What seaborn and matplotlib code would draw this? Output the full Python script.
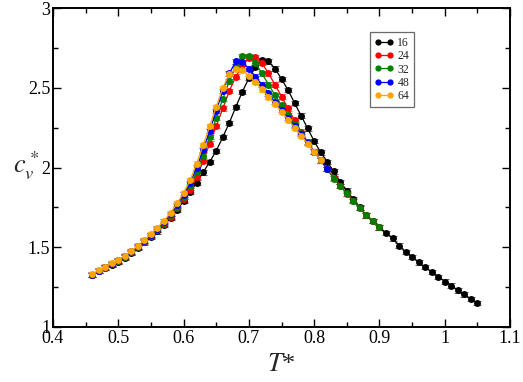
import numpy as np
import pandas as pd
import seaborn as sns
import matplotlib
matplotlib.use('Agg')
import matplotlib.pyplot as plt
from matplotlib.lines import Line2D
from matplotlib.ticker import MultipleLocator, FormatStrFormatter

# temperature grid of the largest run (L=16); the other sizes stop earlier
T_all = [0.46, 0.47, 0.48, 0.49, 0.50, 0.51, 0.52, 0.53, 0.54, 0.55,
         0.56, 0.57, 0.58, 0.59, 0.60, 0.61, 0.62, 0.63, 0.64, 0.65,
         0.66, 0.67, 0.68, 0.69, 0.70, 0.71, 0.72, 0.73, 0.74, 0.75,
         0.76, 0.77, 0.78, 0.79, 0.80, 0.81, 0.82, 0.83, 0.84, 0.85,
         0.86, 0.87, 0.88, 0.89, 0.90, 0.91, 0.92, 0.93, 0.94, 0.95,
         0.96, 0.97, 0.98, 0.99, 1.00, 1.01, 1.02, 1.03, 1.04, 1.05]

cv_16 = [1.325, 1.35, 1.37, 1.39, 1.41, 1.435, 1.465, 1.495, 1.53, 1.565,
         1.60, 1.64, 1.685, 1.735, 1.79, 1.845, 1.905, 1.97, 2.035, 2.105,
         2.19, 2.28, 2.38, 2.475, 2.56, 2.63, 2.675, 2.665, 2.62, 2.555,
         2.485, 2.405, 2.325, 2.245, 2.165, 2.095, 2.035, 1.975, 1.91, 1.855,
         1.80, 1.75, 1.70, 1.665, 1.625, 1.59, 1.555, 1.51, 1.47, 1.44,
         1.405, 1.375, 1.345, 1.315, 1.285, 1.26, 1.23, 1.205, 1.175, 1.15]

cv_24 = [1.325, 1.35, 1.372, 1.392, 1.412, 1.438, 1.468, 1.50, 1.535, 1.57,
         1.607, 1.647, 1.692, 1.745, 1.80, 1.86, 1.94, 2.04, 2.15, 2.26,
         2.37, 2.48, 2.57, 2.64, 2.685, 2.69, 2.655, 2.59, 2.52, 2.445,
         2.37, 2.295, 2.225, 2.16, 2.10, 2.045, 1.99, 1.935, 1.885, 1.835,
         1.79, 1.745, 1.70, 1.665, 1.625]

cv_32 = [1.327, 1.352, 1.374, 1.395, 1.415, 1.441, 1.471, 1.503, 1.538, 1.574,
         1.612, 1.653, 1.70, 1.755, 1.815, 1.885, 1.97, 2.075, 2.19, 2.31,
         2.43, 2.54, 2.635, 2.70, 2.70, 2.655, 2.59, 2.52, 2.455, 2.39,
         2.33, 2.27, 2.215, 2.16, 2.10, 2.045, 1.99, 1.93, 1.885, 1.838,
         1.79, 1.745, 1.70, 1.665, 1.625]

cv_48 = [1.328, 1.353, 1.376, 1.397, 1.418, 1.444, 1.474, 1.506, 1.541, 1.578,
         1.617, 1.66, 1.708, 1.765, 1.83, 1.90, 2.00, 2.11, 2.23, 2.355,
         2.48, 2.59, 2.665, 2.66, 2.62, 2.57, 2.52, 2.465, 2.41, 2.36,
         2.31, 2.26, 2.21, 2.155, 2.10, 2.045, 1.99]

cv_64 = [1.33, 1.355, 1.378, 1.40, 1.42, 1.447, 1.477, 1.51, 1.545, 1.583,
         1.622, 1.666, 1.715, 1.775, 1.84, 1.92, 2.025, 2.14, 2.26, 2.38,
         2.50, 2.585, 2.62, 2.61, 2.575, 2.535, 2.49, 2.445, 2.40, 2.35,
         2.30, 2.25, 2.20, 2.15, 2.10, 2.045]

sizes = ['16', '24', '32', '48', '64']
cv_by_size = [cv_16, cv_24, cv_32, cv_48, cv_64]
colors = ['black', 'red', 'green', 'blue', 'orange']
cv_err = 0.014

rows = []
for L, cv in zip(sizes, cv_by_size):
    for T, c in zip(T_all[:len(cv)], cv):
        rows.append({'T': T, 'cv': c, 'L': L})
df = pd.DataFrame(rows)
palette = dict(zip(sizes, colors))

sns.set_theme(style='ticks')
plt.rcParams['font.family'] = ['Liberation Serif', 'DejaVu Serif']
plt.rcParams['mathtext.fontset'] = 'stix'

fig = plt.figure(figsize=(5.23, 3.82), dpi=100)
ax = fig.add_axes([0.1013, 0.144, 0.874, 0.835])

# error bars underneath the curves
for L in sizes:
    sub = df[df['L'] == L]
    ax.errorbar(sub['T'], sub['cv'], yerr=cv_err, fmt='none', ecolor=palette[L],
                elinewidth=0.8, capsize=3, capthick=0.8, alpha=0.6, zorder=1)

sns.lineplot(data=df, x='T', y='cv', hue='L', hue_order=sizes, palette=palette,
             marker='o', markersize=5, markeredgewidth=0, linewidth=0.9,
             errorbar=None, legend=False, ax=ax, zorder=2)

ax.set_xlim(0.4, 1.1)
ax.set_ylim(1, 3)
ax.xaxis.set_major_locator(MultipleLocator(0.1))
ax.xaxis.set_minor_locator(MultipleLocator(0.05))
ax.yaxis.set_major_locator(MultipleLocator(0.5))
ax.yaxis.set_minor_locator(MultipleLocator(0.25))
ax.xaxis.set_major_formatter(FormatStrFormatter('%g'))
ax.yaxis.set_major_formatter(FormatStrFormatter('%g'))
ax.tick_params(which='both', direction='in', top=True, right=True, width=1.0,
               colors='black', labelsize=13)
ax.tick_params(which='major', length=6)
ax.tick_params(axis='x', which='major', pad=2)
ax.tick_params(axis='y', which='major', pad=2)
ax.tick_params(which='minor', length=3.5)
for s in ax.spines.values():
    s.set_linewidth(1.4)
    s.set_color('black')

ax.set_xlabel('$T$*', fontsize=19, labelpad=5)
ax.set_ylabel('$c_v^*$', fontsize=19, rotation=0)
ax.yaxis.set_label_coords(-0.058, 0.455)

handles = [Line2D([0], [0], color=c, marker='o', markersize=4.5, markeredgewidth=0,
                  linewidth=0.9) for c in colors]
leg = ax.legend(handles, sizes, loc='upper left', bbox_to_anchor=(0.694, 0.925),
                numpoints=2, fontsize=8.5, frameon=True, fancybox=False,
                handlelength=1.6, handletextpad=0.3, labelspacing=0.12,
                borderpad=0.4, borderaxespad=0)
leg.get_frame().set_edgecolor('#444444')
leg.get_frame().set_linewidth(0.9)

fig.savefig('out.png', dpi=100)
